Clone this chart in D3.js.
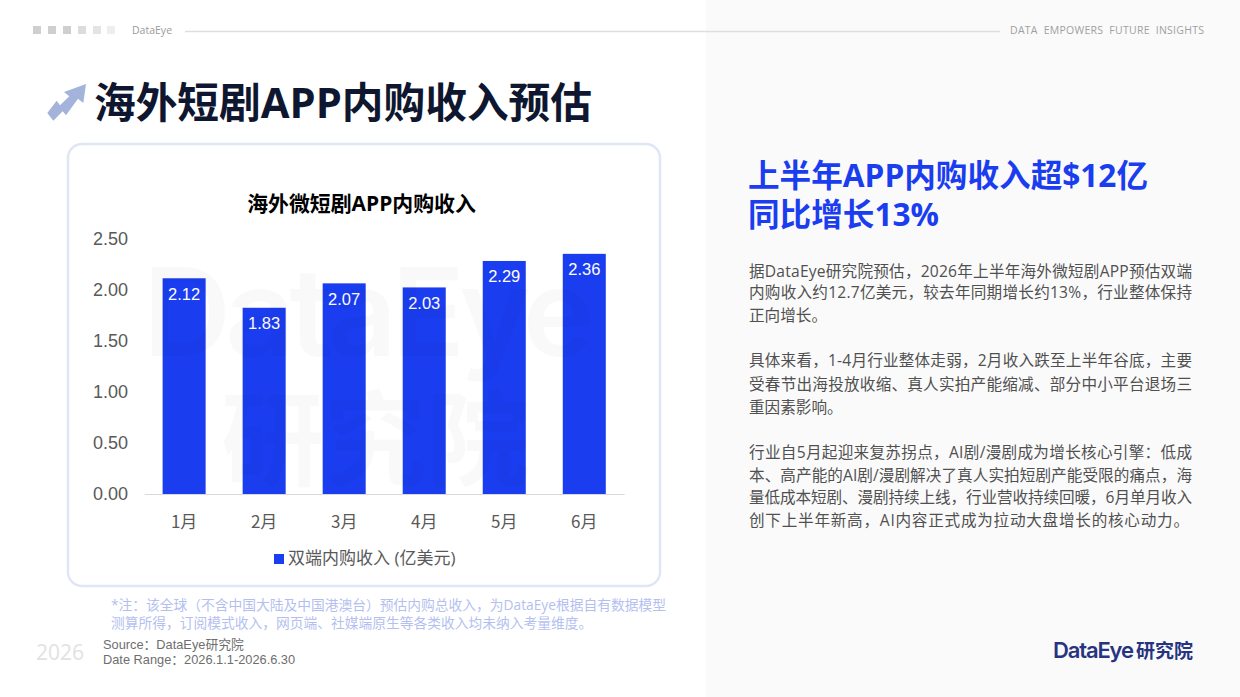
<!DOCTYPE html>
<html><head><meta charset="utf-8">
<script src="https://cdn.jsdelivr.net/npm/d3@7/dist/d3.min.js"></script>
<style>html,body{margin:0;padding:0;background:#fff}svg{display:block}</style>
</head><body><svg id="c" width="1240" height="697"></svg>
<script>
const months = ["1月","2月","3月","4月","5月","6月"];
const revenue = [2.12,1.83,2.07,2.03,2.29,2.36];
const yTicks = [0,0.5,1,1.5,2,2.5];
const chartTitle = "海外微短剧APP内购收入";
const legendLabel = "双端内购收入 (亿美元)";
const pageTitle = "海外短剧APP内购收入预估";
const headline = ["上半年APP内购收入超$12亿","同比增长13%"];
const body = [
 "据DataEye研究院预估，2026年上半年海外微短剧APP预估双端",
 "内购收入约12.7亿美元，较去年同期增长约13%，行业整体保持",
 "正向增长。",
 "具体来看，1-4月行业整体走弱，2月收入跌至上半年谷底，主要",
 "受春节出海投放收缩、真人实拍产能缩减、部分中小平台退场三",
 "重因素影响。",
 "行业自5月起迎来复苏拐点，AI剧/漫剧成为增长核心引擎：低成",
 "本、高产能的AI剧/漫剧解决了真人实拍短剧产能受限的痛点，海",
 "量低成本短剧、漫剧持续上线，行业营收持续回暖，6月单月收入",
 "创下上半年新高，AI内容正式成为拉动大盘增长的核心动力。"
];
const note = ["*注：该全球（不含中国大陆及中国港澳台）预估内购总收入，为DataEye根据自有数据模型","测算所得，订阅模式收入，网页端、社媒端原生等各类收入均未纳入考量维度。"];
const bodyY = [277,298,321,366,390,413,458,481,503,526];
const bodyLen = [443,443,null,443,443,null,443,443,443,440];
const CJK = '"Noto Sans CJK SC","Noto Sans",sans-serif';
const OS = '"Open Sans","Noto Sans CJK SC",sans-serif';
const LS = '"Liberation Sans","Noto Sans CJK SC",sans-serif';
const svg = d3.select("#c");
const T=(s,x,y,size,fill,opt={})=>svg.append("text").attr("x",x).attr("y",y).attr("font-family",opt.font||OS)
  .attr("font-size",size).attr("fill",fill).attr("font-weight",opt.w||400).attr("text-anchor",opt.a||"start")
  .attr("letter-spacing",opt.ls||null).attr("textLength",opt.len||null).style("white-space","pre").text(s);

svg.append("rect").attr("x",706).attr("y",0).attr("width",534).attr("height",697).attr("fill","#fafafa");

// header
[["#cfcfcf",33],["#cfcfcf",48],["#cfcfcf",63],["#dcdcdc",78],["#e4e4e4",93],["#eeeeee",107]].forEach(d=>
  svg.append("rect").attr("x",d[1]).attr("y",26).attr("width",8).attr("height",8).attr("fill",d[0]));
T("DataEye",132,34,10.5,"#9a9a9a");
svg.append("line").attr("x1",185).attr("x2",1000).attr("y1",31.5).attr("y2",31.5).attr("stroke","#dedede").attr("stroke-width",1.4);
T("DATA  EMPOWERS  FUTURE  INSIGHTS",1010,34,10.5,"#a0a0a0",{len:194});

// title + arrow icon
svg.append("path").attr("d","M86 84 L64 92 L69.3 96.3 L60 105.3 L56.7 100.7 L47.3 113 L53.3 120.7 L62.7 111.3 L66 115.3 L78 98.7 L83.3 103 Z").attr("fill","#a3b3da");
T(pageTitle,94,118,41.7,"#0f1730",{w:700});

// chart card
svg.append("rect").attr("x",68).attr("y",144).attr("width",592).attr("height",442).attr("rx",14)
  .attr("fill","#fff").attr("stroke","#dfe6f6").attr("stroke-width",2.5);

T(chartTitle,361.5,211,20.9,"#000",{w:700,a:"middle"});

// chart
const x = d3.scaleBand().domain(months).range([144.2,624.2]).paddingInner(0.4625).paddingOuter(0.23);
const y = d3.scaleLinear().domain([0,2.5]).range([494,239.6]);
const fmt = d3.format(".2f");

const xAxis = svg.append("g").attr("transform","translate(0,494)").call(d3.axisBottom(x).tickSize(0).tickPadding(22));
xAxis.select(".domain").attr("stroke","#d9d9d9");
xAxis.selectAll("text").attr("font-family",CJK).attr("font-size",17).attr("fill","#595959");
const yAxis = svg.append("g").attr("transform","translate(128,-0.5)").call(d3.axisLeft(y).tickValues(yTicks).tickFormat(fmt).tickSize(0).tickPadding(0));
yAxis.select(".domain").remove();
yAxis.selectAll("text").attr("font-family",'"Liberation Sans",sans-serif').attr("font-size",18).attr("fill","#595959");

svg.append("g").selectAll("rect").data(months).join("rect")
  .attr("x",d=>x(d)).attr("width",x.bandwidth())
  .attr("y",(d,i)=>y(revenue[i])).attr("height",(d,i)=>y(0)-y(revenue[i])).attr("fill","#1a3def");
svg.append("g").selectAll("text").data(months).join("text")
  .attr("x",d=>x(d)+x.bandwidth()/2).attr("y",(d,i)=>y(revenue[i])+21.5)
  .attr("text-anchor","middle").attr("font-family",'"Liberation Sans",sans-serif').attr("font-size",16.5).attr("fill","#fff")
  .text((d,i)=>fmt(revenue[i]));

// watermark over the chart
T("DataEye",143,356,122,"rgba(0,0,0,0.025)",{font:'"Inter",sans-serif',w:600,len:452});
T("研究院",221,478,103,"rgba(0,0,0,0.025)",{font:CJK,w:700});

// legend
svg.append("rect").attr("x",274).attr("y",554).attr("width",10).attr("height",10).attr("fill","#1a3def");
T(legendLabel,288,564,17,"#595959");

// notes
T(note[0],111,610,13.75,"#b4bff0");
T(note[1],111,628,13.75,"#b4bff0");
T("2026",36,660,21,"#e2e2e2");
T("Source：DataEye研究院",103,649,12.8,"#6e6e6e",{font:LS});
T("Date Range：2026.1.1-2026.6.30",103,664,12.8,"#6e6e6e",{font:LS});

// right panel
T(headline[0],748,187,31.6,"#1a3def",{w:700});
T(headline[1],748,226,31.6,"#1a3def",{w:700});
body.forEach((b,i)=>T(b,749,bodyY[i],15.6,"#505050",{len:bodyLen[i]}));
T("DataEye",1053,658,22,"#27347f",{font:'"Inter",sans-serif',w:600,len:81});
T("研究院",1136,658,19,"#27347f",{font:CJK,w:700});
</script></body></html>
